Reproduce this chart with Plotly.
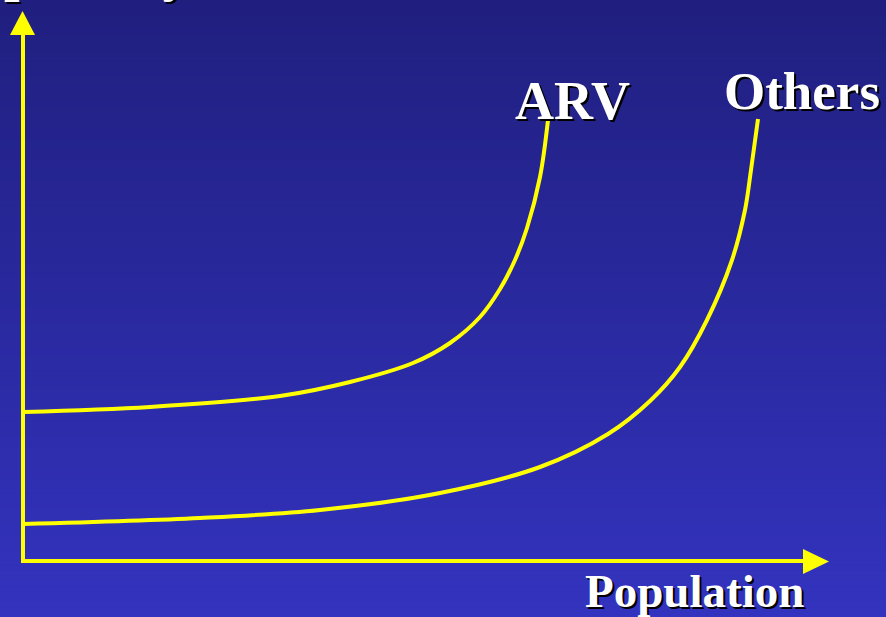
import plotly.graph_objects as go

# Population (x) and cost (y) values for the two curves
arv_x = [0, 15.875, 32.125, 40.875, 48.75, 53.375, 57.125, 59.625, 61.5, 63.0, 64.625, 65.625]
arv_y = [29.8, 30.8, 33.0, 35.8, 39.6, 43.6, 48.8, 54.4, 60.2, 66.6, 76.8, 88.2]

others_x = [0, 22.125, 37.125, 52.125, 64.625, 73.125, 78.375, 82.125, 85.5,
            88.625, 90.25, 91.0, 91.875]
others_y = [7.4, 8.6, 10.2, 13.6, 18.8, 25.4, 32.0, 38.8, 48.2,
            60.2, 70.2, 78.2, 88.4]

series_names = ["ARV", "Others"]
x_title = "Population"
y_title = "priority"

YELLOW = "#ffff00"
W, H = 886, 617

fig = go.Figure()

for xs, ys, name in [(arv_x, arv_y, series_names[0]), (others_x, others_y, series_names[1])]:
    fig.add_trace(go.Scatter(
        x=xs, y=ys, mode="lines", name=name,
        line=dict(color=YELLOW, width=4, shape="spline", smoothing=1.0),
        hoverinfo="skip", showlegend=False,
    ))

# vertical gradient background built from thin bands
shapes = []
n_bands = 120
top = (32, 31, 127)
bot = (51, 51, 191)
for i in range(n_bands):
    t = i / (n_bands - 1)
    c = tuple(round(top[k] + (bot[k] - top[k]) * t) for k in range(3))
    y1 = 1 - i / n_bands
    y0 = 1 - (i + 1) / n_bands - 0.002
    shapes.append(dict(type="rect", xref="paper", yref="paper", x0=0, x1=1,
                       y0=max(y0, 0), y1=y1, line=dict(width=0),
                       fillcolor="rgb(%d,%d,%d)" % c, layer="below"))

# axes with arrow heads
shapes += [
    dict(type="line", x0=0, y0=0, x1=0, y1=106, line=dict(color=YELLOW, width=4), layer="above"),
    dict(type="line", x0=-0.25, y0=0, x1=98, y1=0, line=dict(color=YELLOW, width=4), layer="above"),
    dict(type="path", path="M -1.625,105.2 L 1.5,105.2 L -0.06,110 Z",
         fillcolor=YELLOW, line=dict(width=0), layer="above"),
    dict(type="path", path="M 97.5,2.4 L 97.5,-2.6 L 100.75,-0.1 Z",
         fillcolor=YELLOW, line=dict(width=0), layer="above"),
]

label_font = dict(family="Liberation Serif, Times New Roman, serif", color="white",
                  shadow="2px 2px 0px #000000")

annotations = [
    dict(x=arv_x[-1], y=arv_y[-1], text="<b>" + series_names[0] + "</b>", showarrow=False,
         xanchor="left", yanchor="bottom", yshift=-13, xshift=-35, font=dict(size=54, **label_font)),
    dict(x=others_x[-1], y=others_y[-1], text="<b>" + series_names[1] + "</b>", showarrow=False,
         xanchor="left", yanchor="bottom", yshift=-3, xshift=-36, font=dict(size=53, **label_font)),
    dict(xref="paper", yref="paper", x=694 / W, y=0, text="<b>" + x_title + "</b>", showarrow=False,
         xanchor="center", yanchor="bottom", yshift=-2, font=dict(size=47, **label_font)),
    dict(xref="paper", yref="paper", x=2 / W, y=1, text="<b>" + y_title + "</b>", showarrow=False,
         xanchor="left", yanchor="bottom", yshift=-4, font=dict(size=56, **label_font)),
]

px_per_x = 8.0
px_per_y = 5.0
x0_px, y0_px = 23, 561

fig.update_layout(
    width=W, height=H,
    margin=dict(l=0, r=0, t=0, b=0),
    paper_bgcolor="rgb(40,40,160)",
    plot_bgcolor="rgba(0,0,0,0)",
    xaxis=dict(range=[-x0_px / px_per_x, (W - x0_px) / px_per_x], visible=False, fixedrange=True),
    yaxis=dict(range=[(y0_px - H) / px_per_y, y0_px / px_per_y], visible=False, fixedrange=True),
    shapes=shapes,
    annotations=annotations,
)

fig.write_html("out.html")
